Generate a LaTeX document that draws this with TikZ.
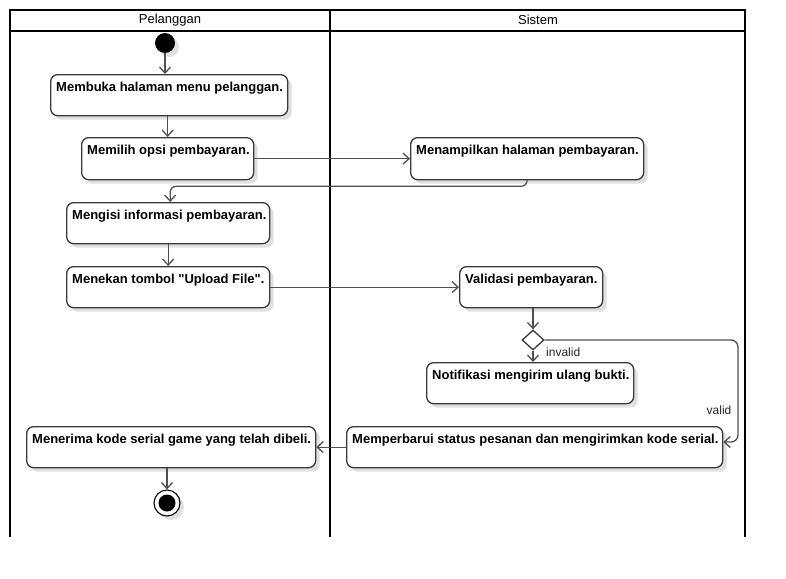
\documentclass[tikz,border=0pt]{standalone}
\usepackage{fontspec}
\setmainfont{Liberation Sans}[Ligatures=NoCommon]
\usetikzlibrary{arrows.meta,shadows,calc,shapes.geometric}
\definecolor{boxline}{HTML}{3A3A3A}
\definecolor{flowline}{HTML}{505050}
\tikzset{
  act/.style={draw=boxline, line width=1.3pt, fill=white, rounded corners=7pt,
    inner sep=0pt, anchor=north west,
    drop shadow={shadow xshift=4pt, shadow yshift=-4pt, opacity=0.12, fill=black}},
  acttext/.style={anchor=north west, xshift=6pt, yshift=-8pt, inner sep=0pt,
    font=\fontsize{13}{15}\selectfont\bfseries},
  flow/.style={draw=flowline, line width=1.3pt, -{Straight Barb[length=6pt,width=11pt]}},
  lane/.style={draw=black, line width=1.8pt},
  lanehead/.style={font=\fontsize{13}{15}\selectfont, inner sep=0pt},
  guard/.style={font=\fontsize{12}{14}\selectfont, inner sep=0pt, text=black!85},
}
\begin{document}
\begin{tikzpicture}[x=1pt,y=-1pt]
\useasboundingbox (0,0) rectangle (786,578);
\fill[white] (0,0) rectangle (786,578);
% swimlanes
\draw[lane] (10,10) rectangle (745,31);
\draw[lane] (10,31) -- (10,537);
\draw[lane] (330,10) -- (330,537);
\draw[lane] (745,31) -- (745,537);
\node[lanehead] (hp) at (170,20) {Pelanggan};
\node[lanehead] (hs) at (538,20) {Sistem};
% initial
\node[circle, fill=black, minimum size=20pt, inner sep=0pt,
  drop shadow={shadow xshift=4pt, shadow yshift=-4pt, opacity=0.12, fill=black}] (init) at (165,43) {};
% activities
\node[act, minimum width=237pt, minimum height=41pt,
  label={[acttext]north west:Membuka halaman menu pelanggan.}] (m1) at (50,74) {};
\node[act, minimum width=172pt, minimum height=42pt,
  label={[acttext]north west:Memilih opsi pembayaran.}] (m2) at (81,137) {};
\node[act, minimum width=233pt, minimum height=42pt,
  label={[acttext]north west:Menampilkan halaman pembayaran.}] (s1) at (410,137) {};
\node[act, minimum width=203pt, minimum height=41pt,
  label={[acttext]north west:Mengisi informasi pembayaran.}] (m3) at (66,202) {};
\node[act, minimum width=203pt, minimum height=41pt,
  label={[acttext]north west:Menekan tombol \textquotedbl Upload File\textquotedbl.}] (m4) at (66,266) {};
\node[act, minimum width=143pt, minimum height=41pt,
  label={[acttext]north west:Validasi pembayaran.}] (s2) at (459,266) {};
\node[draw=boxline, line width=1.3pt, fill=white, diamond, minimum width=22pt, minimum height=20pt, inner sep=0pt,
  shape aspect=1.1] (d) at (533,340) {};
\node[act, minimum width=207pt, minimum height=41pt,
  label={[acttext]north west:Notifikasi mengirim ulang bukti.}] (s3) at (426,362) {};
\node[act, minimum width=376pt, minimum height=41pt,
  label={[acttext]north west:Memperbarui status pesanan dan mengirimkan kode serial.}] (s4) at (346,426) {};
\node[act, minimum width=289pt, minimum height=41pt,
  label={[acttext]north west:Menerima kode serial game yang telah dibeli.}] (m5) at (26,426) {};
% final
\node[circle, draw=black, line width=1.1pt, fill=white, minimum size=26pt, inner sep=0pt,
  drop shadow={shadow xshift=4pt, shadow yshift=-4pt, opacity=0.12, fill=black}] (fin) at (167,503) {};
\node[circle, fill=black, minimum size=17pt, inner sep=0pt] (finin) at (fin.center) {};
% connectors
\coordinate (v1) at (738,340);
\coordinate (v2) at (738,442);
\draw[flow] (init) -- (init |- m1.north);
\draw[flow] (m2 |- m1.south) -- (m2.north);
\draw[flow] (m2.east) -- (s1.west);
\draw[flow, rounded corners=6pt] (s1.south) -- ++(0,6) -| ($(m3.north)+(2,0)$);
\draw[flow] (m3.south) -- (m4.north);
\draw[flow] (m4.east) -- (s2.west);
\draw[flow] (d |- s2.south) -- (d.north);
\draw[flow] (d.south) -- (d |- s3.north);
\draw[flow, rounded corners=7pt] (d.east) -- (v1) -- (v2) -- (s4.east |- v2);
\draw[flow] (s4.west) -- (m5.east);
\draw[flow] (fin |- m5.south) -- (fin.north);
% guards
\node[guard, anchor=west] (gi) at (546,352) {invalid};
\node[guard] (gv) at (719,410) {valid};
\end{tikzpicture}
\end{document}
